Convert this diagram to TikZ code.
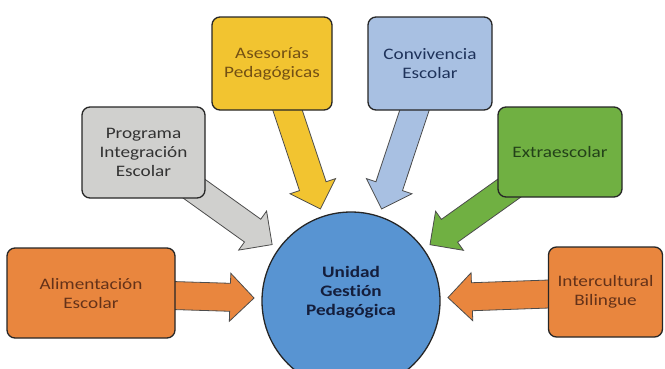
\documentclass[tikz,border=0pt]{standalone}
\usepackage{fontspec}
\setmainfont[FakeStretch=1.2, Ligatures=NoCommon, Contextuals=NoAlternate]{Carlito}
\usetikzlibrary{calc,backgrounds}

\definecolor{amarillo}{RGB}{242,196,48}
\definecolor{amarilloT}{RGB}{115,80,20}
\definecolor{celeste}{RGB}{168,192,226}
\definecolor{celesteT}{RGB}{30,50,90}
\definecolor{gris}{RGB}{208,208,206}
\definecolor{grisT}{RGB}{50,50,50}
\definecolor{verde}{RGB}{112,176,66}
\definecolor{verdeT}{RGB}{35,65,25}
\definecolor{naranja}{RGB}{233,134,62}
\definecolor{naranjaT}{RGB}{100,50,25}
\definecolor{azul}{RGB}{88,148,210}
\definecolor{azulT}{RGB}{20,30,60}

\newcommand{\bigarrow}[2]{%
  \coordinate (tip) at ($(hub.center)!97pt!(#1.center)$);
  \coordinate (neck) at ($(tip)!24pt!(#1.center)$);
  \draw[pointer, fill=#2] ($(#1.center)!14pt!90:(tip)$) -- ($(neck)!14pt!-90:(#1.center)$)
    -- ($(neck)!24pt!-90:(#1.center)$) -- (tip) -- ($(neck)!24pt!90:(#1.center)$)
    -- ($(neck)!14pt!90:(#1.center)$) -- ($(#1.center)!14pt!-90:(tip)$) -- cycle;
}

\begin{document}
\begin{tikzpicture}[x=1pt, y=-1pt,
    card/.style={draw=black!85, line width=1.3pt, rounded corners=8pt, align=center,
      font=\fontsize{16}{19}\selectfont, inner sep=2pt},
    pointer/.style={draw=black!70, line width=0.8pt, line join=miter}]
  \useasboundingbox (0,0) rectangle (665,368);
  \clip (0,0) rectangle (665,368);

  \node[card, fill=amarillo, text=amarilloT, minimum width=120, minimum height=93] (ases) at (272,63.5) {Asesorías\\Pedagógicas};
  \node[card, fill=celeste, text=celesteT, minimum width=124, minimum height=93] (conv) at (430,63.5) {Convivencia\\Escolar};
  \node[card, fill=gris, text=grisT, minimum width=123, minimum height=91] (pie) at (143.5,152.5) {Programa\\Integración\\Escolar};
  \node[card, fill=verde, text=verdeT, minimum width=124, minimum height=90] (extra) at (560,152) {Extraescolar};
  \node[card, fill=naranja, text=naranjaT, minimum width=168, minimum height=90] (alim) at (91,293) {Alimentación\\Escolar};
  \node[card, fill=naranja, text=naranjaT, minimum width=114, minimum height=90] (inter) at (605.5,292) {Intercultural\\Bilingue};

  \node[circle, draw=black!85, line width=1.3pt, fill=azul, minimum size=178] (hub) at (351,301) {};
  \node[text=azulT, align=center, font=\fontsize{16}{19}\selectfont\bfseries] (hubtext) at (351,292.5) {Unidad\\Gest\kern0pt ión\\Pedagógica};

  \begin{scope}[on background layer]
    \bigarrow{ases}{amarillo}
    \bigarrow{conv}{celeste}
    \bigarrow{pie}{gris}
    \bigarrow{extra}{verde}
    \bigarrow{alim}{naranja}
    \bigarrow{inter}{naranja}
  \end{scope}
\end{tikzpicture}
\end{document}
